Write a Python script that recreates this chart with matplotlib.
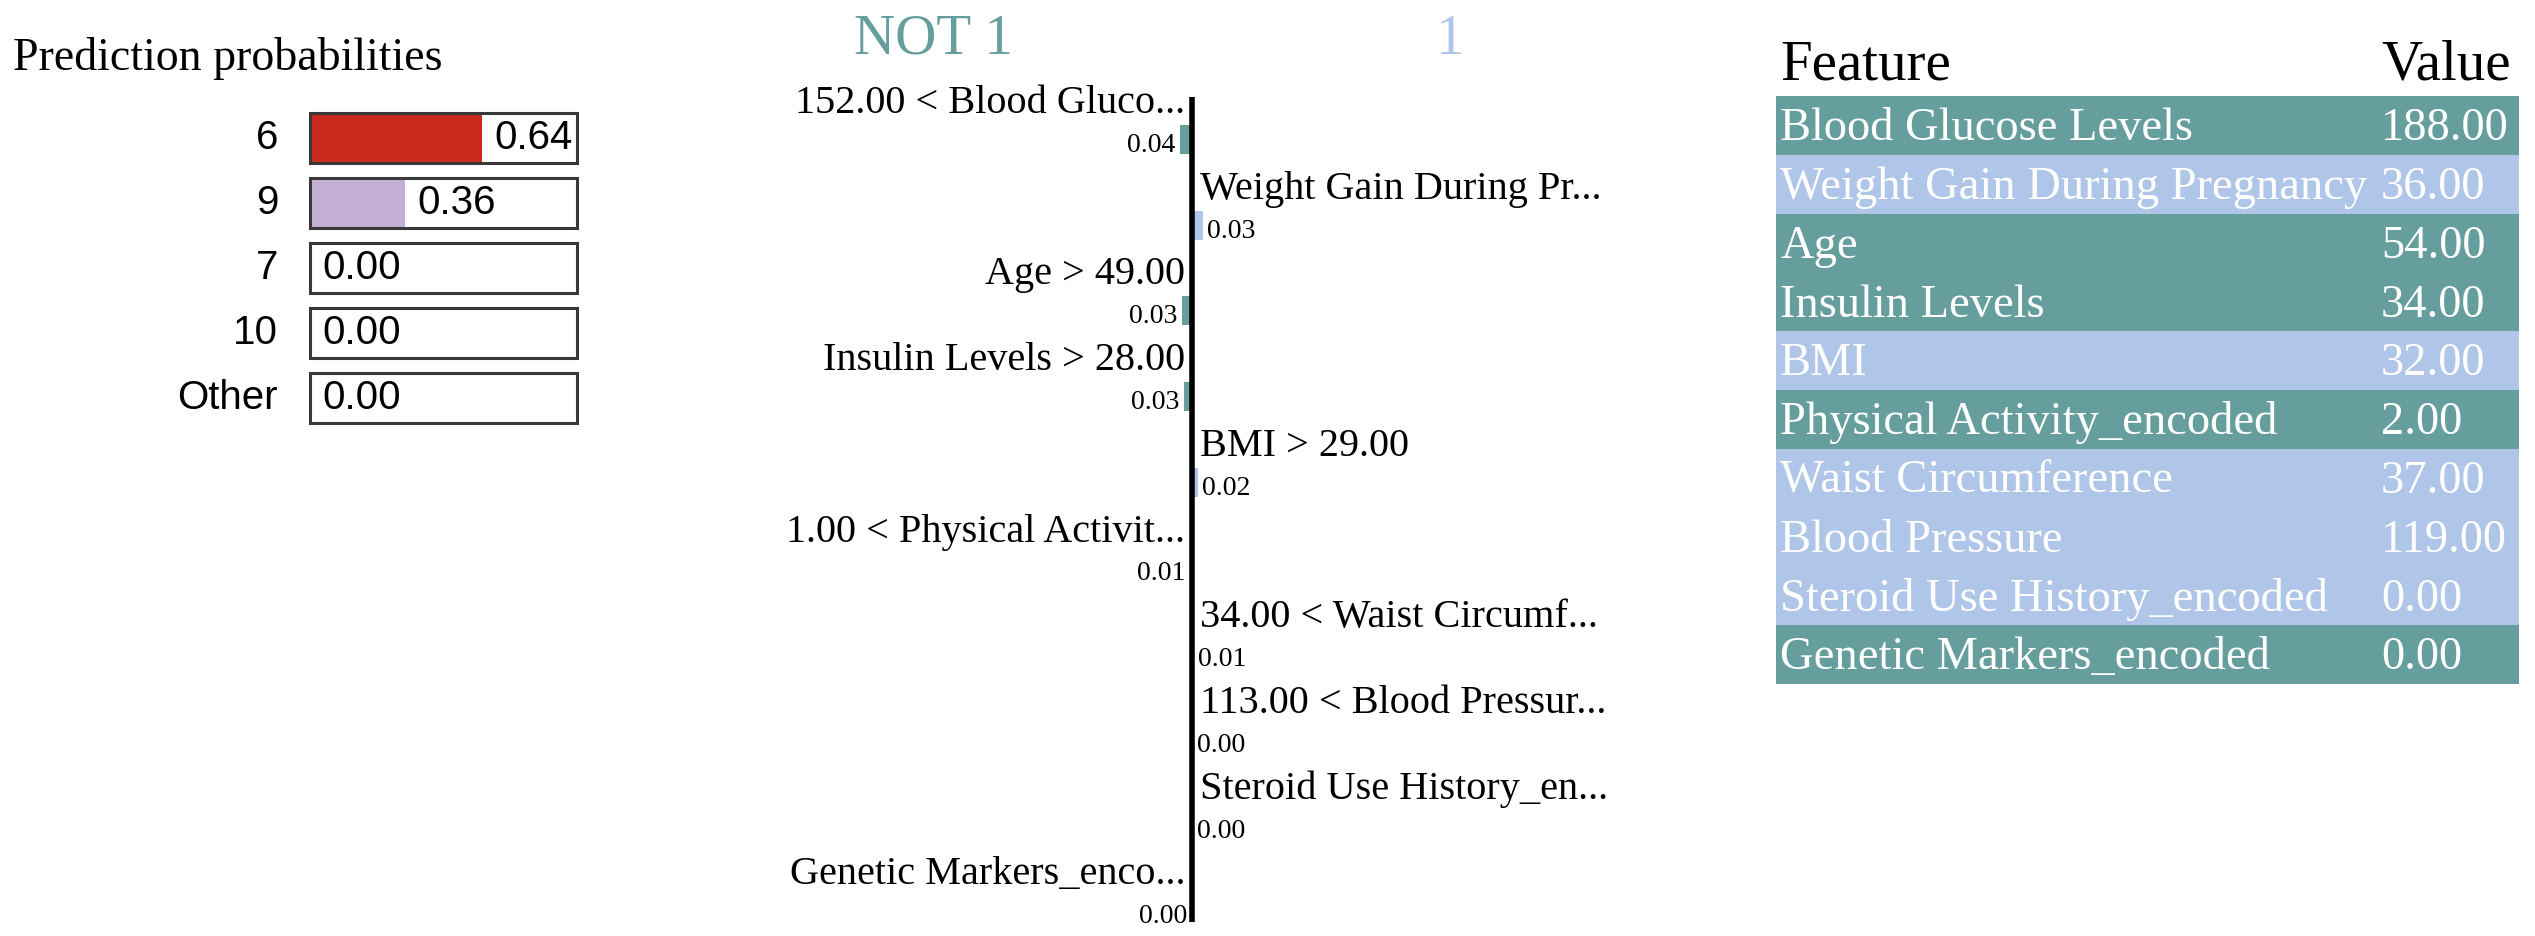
import numpy as np
import matplotlib
matplotlib.use('Agg')
import matplotlib.pyplot as plt

# prediction probabilities
classes = ['6', '9', '7', '10', 'Other']
probs = [0.644, 0.356, 0.0, 0.0, 0.0]
prob_colors = ['#c92a1c', '#c5b0d5', '#9edae5', '#17becf', '#dbdb8d']

# explanation for class "1" (negative = NOT 1)
feat_labels = ['152.00 < Blood Gluco...', 'Weight Gain During Pr...', 'Age > 49.00',
               'Insulin Levels > 28.00', 'BMI > 29.00', '1.00 < Physical Activit...',
               '34.00 < Waist Circumf...', '113.00 < Blood Pressur...',
               'Steroid Use History_en...', 'Genetic Markers_enco...']
weights = [-0.040, 0.034, -0.033, -0.027, 0.019, -0.007, 0.006, 0.003, 0.002, -0.001]

# feature values table
table_names = ['Blood Glucose Levels', 'Weight Gain During Pregnancy', 'Age', 'Insulin Levels',
               'BMI', 'Physical Activity_encoded', 'Waist Circumference', 'Blood Pressure',
               'Steroid Use History_encoded', 'Genetic Markers_encoded']
table_values = [188.0, 36.0, 54.0, 34.0, 32.0, 2.0, 37.0, 119.0, 0.0, 0.0]

TEAL = '#669e9e'
BLUE = '#b0c6e8'
SERIF = 'Liberation Serif'
SANS = 'Liberation Sans'

W, H = 2535, 936
fig = plt.figure(figsize=(W / 100, H / 100), dpi=100)


def px_rect(x0, y0, x1, y1):
    return [x0 / W, 1 - y1 / H, (x1 - x0) / W, (y1 - y0) / H]


# ---- left: prediction probabilities
fig.text(13 / W, 1 - 58 / H, 'Prediction probabilities', ha='left', va='center',
         fontsize=33, family=SERIF)
ax1 = fig.add_axes(px_rect(0, 80, 700, 450))
s1 = 267.0
ax1.set_xlim(-310 / s1, (700 - 310) / s1)
ax1.set_ylim((450 - 138) / 65, (80 - 138) / 65)
ypos = np.arange(len(classes))
ax1.barh(ypos, probs, height=0.77, color=prob_colors, linewidth=0)
ax1.barh(ypos, [1.0] * len(classes), height=0.77, fill=False, edgecolor='#383838',
         linewidth=2.2)
for i, (c, p) in enumerate(zip(classes, probs)):
    ax1.annotate(c, xy=(0, i), xytext=(-23, 0), textcoords='offset points',
                 ha='right', va='center', fontsize=29, family=SANS)
    ax1.annotate('%.2f' % p, xy=(p, i), xytext=(9, 0), textcoords='offset points',
                 ha='left', va='center', fontsize=29, family=SANS)
ax1.axis('off')

# ---- middle: explanation bars
fig.text(933 / W, 1 - 40 / H, 'NOT 1', ha='center', va='center', fontsize=41,
         family=SERIF, color=TEAL)
fig.text(1450 / W, 1 - 40 / H, '1', ha='center', va='center', fontsize=41,
         family=SERIF, color=BLUE)
ax2 = fig.add_axes(px_rect(650, 0, 1750, 936))
s2 = 310.0
zero = 1192
pitch = 85.7
c0 = 139.5
ax2.set_xlim((650 - zero) / s2, (1750 - zero) / s2)
ax2.set_ylim((936 - c0) / pitch, -c0 / pitch)
rows = np.arange(len(weights))
bar_colors = [TEAL if w < 0 else BLUE for w in weights]
ax2.barh(rows, weights, height=0.34, color=bar_colors, linewidth=0)
ax2.vlines(0, -0.5, 9.13, color='black', linewidth=4)
for i, (lbl, w) in enumerate(zip(feat_labels, weights)):
    if w < 0:
        ax2.annotate(lbl, xy=(0, i - 0.42), xytext=(-5, 0), textcoords='offset points',
                     ha='right', va='center', fontsize=29, family=SERIF)
        ax2.annotate('%.2f' % abs(w), xy=(w, i + 0.07), xytext=(-3, 0),
                     textcoords='offset points', ha='right', va='center',
                     fontsize=20, family=SERIF)
    else:
        ax2.annotate(lbl, xy=(0, i - 0.42), xytext=(6, 0), textcoords='offset points',
                     ha='left', va='center', fontsize=29, family=SERIF)
        ax2.annotate('%.2f' % abs(w), xy=(w, i + 0.07), xytext=(3, 0),
                     textcoords='offset points', ha='left', va='center',
                     fontsize=20, family=SERIF)
ax2.axis('off')

# ---- right: feature / value table
ax3 = fig.add_axes(px_rect(1776, 96, 2519, 684))
ax3.set_xlim(0, 1)
ax3.set_ylim(len(table_names), 0)
trows = np.arange(len(table_names)) + 0.5
ax3.barh(trows, [1.0] * len(table_names), height=1.0, color=bar_colors, linewidth=0)
name_x = 4 / 743
val_x = 605 / 743
ax3.text(name_x, -0.52, 'Feature', ha='left', va='center', fontsize=41, family=SERIF,
         clip_on=False)
ax3.text(val_x, -0.52, 'Value', ha='left', va='center', fontsize=41, family=SERIF,
         clip_on=False)
for i, (n, v) in enumerate(zip(table_names, table_values)):
    ax3.text(name_x, i + 0.56, n, ha='left', va='center', fontsize=33.5, family=SERIF,
             color='white')
    ax3.text(val_x, i + 0.56, '%.2f' % v, ha='left', va='center', fontsize=33.5,
             family=SERIF, color='white')
ax3.axis('off')

fig.savefig('out.png', dpi=100)
